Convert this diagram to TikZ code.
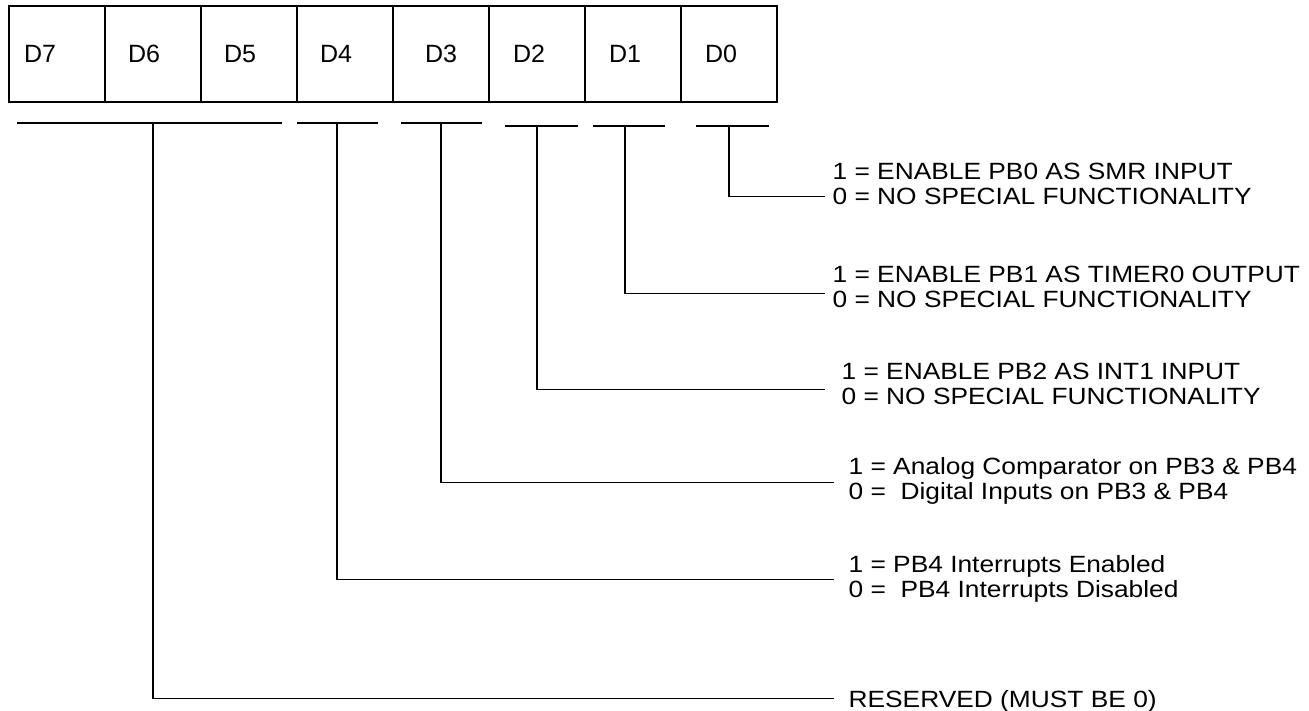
\documentclass[tikz,border=0pt]{standalone}
\usepackage{fontspec}
\setmainfont{Liberation Sans}
\newfontfamily\descfont[FakeStretch=1.12]{Liberation Sans}
\tikzset{
  cell/.style={draw, minimum width=96pt, minimum height=96pt, inner sep=0pt},
  bitlbl/.style={anchor=west, inner sep=0pt, font=\fontsize{25}{28}\selectfont},
  desc/.style={anchor=north west, inner sep=0pt, align=left, text depth=0pt,
    font=\descfont\fontsize{23.5}{25}\selectfont},
}
\begin{document}
\begin{tikzpicture}[x=1pt, y=-1pt, line width=1.2pt]
    \useasboundingbox (0,0) rectangle (1309,710);

    % register cells, D7 on the left
    \foreach \b/\dx in {7/15,6/23,5/23,4/23,3/32,2/24,1/24,0/24} {
        \node[cell] (c\b) at ({57+96*(7-\b)}, 54) {};
        \node[bitlbl] (l\b) at ([xshift=\dx pt]c\b.west) {D\b};
    }

    % field bars and stem tops
    \foreach \n/\l/\m/\r/\y in {6/17/153/282/123, 4/297/337/378/123, 3/401/441/482/123,
                                2/505/537/578/126, 1/593/625/665/126, 0/696/729/769/126} {
        \draw (\l,\y) -- (\r,\y);
        \coordinate (b\n) at (\m,\y);
    }

    \node[desc] (t0) at (832,162) {1 = ENABLE PB0 AS SMR INPUT\\0 = NO SPECIAL FUNCTIONALITY};
    \node[desc] (t1) at (832,265) {1 = ENABLE PB1 AS TIMER0 OUTPUT\\0 = NO SPECIAL FUNCTIONALITY};
    \node[desc] (t2) at (841,362) {1 = ENABLE PB2 AS INT1 INPUT\\0 = NO SPECIAL FUNCTIONALITY};
    \node[desc] (t3) at (848,457) {1 = Analog Comparator on PB3 \& PB4\\0 =\ \ Digital Inputs on PB3 \& PB4};
    \node[desc] (t4) at (848,555) {1 = PB4 Interrupts Enabled\\0 =\ \ PB4 Interrupts Disabled};
    \node[desc] (t6) at (848,690) {RESERVED (MUST BE 0)};

    \foreach \n/\gap/\dy in {0/7/13, 1/7/7, 2/16/6, 3/14/4, 4/14/3, 6/14/-1}
        \draw[shorten >=\gap pt] (b\n) |- ([yshift=-\dy pt]t\n.west);
\end{tikzpicture}
\end{document}
